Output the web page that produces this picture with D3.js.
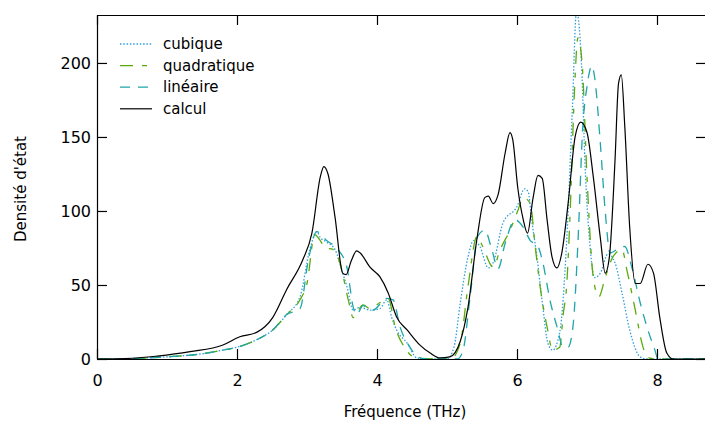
<!DOCTYPE html>
<html>
  <head>
    <meta charset="utf-8">
    <script src="https://d3js.org/d3.v7.min.js"></script>
    <style>
      body { margin: 0; background: #fff; }
      text { font-family: "DejaVu Sans", sans-serif; fill: #000; }
    </style>
  </head>
<body>
  <script type="text/javascript">
    "use strict";

    // density of states (frequency in THz, DOS)
    var freqCubique = [0, 0.5, 1.0, 1.5, 1.8, 2.0, 2.28, 2.51, 2.71, 2.9, 3.04, 3.14, 3.19, 3.28, 3.4, 3.51, 3.57, 3.66, 3.76, 3.9, 4.04, 4.14, 4.21, 4.28, 4.43, 4.57, 4.7, 5.0, 5.1, 5.19, 5.3, 5.38, 5.47, 5.59, 5.66, 5.8, 6.0, 6.11, 6.16, 6.21, 6.29, 6.37, 6.44, 6.51, 6.61, 6.71, 6.79, 6.85, 6.93, 6.97, 7.04, 7.11, 7.19, 7.3, 7.4, 7.5, 7.61, 7.76, 7.85, 8.7];
    var dosCubique  = [0, 0.3, 1.5, 3.5, 6, 8, 13, 19.6, 30, 42, 74, 86, 82, 79, 74, 58, 49, 33, 35, 33, 34, 40, 28, 19.6, 10.8, 0.7, 0, 0, 8, 38, 69, 80, 76, 61.5, 65, 92, 103, 115, 113, 94, 67, 35, 10.8, 6, 18, 80, 168, 235, 190, 134, 78, 55, 58, 71, 65, 44.6, 19.6, 1.4, 0, 0];

    var freqQuadratique = [0, 0.5, 1.0, 1.5, 1.8, 2.0, 2.28, 2.51, 2.71, 2.9, 3.0, 3.11, 3.19, 3.26, 3.37, 3.47, 3.59, 3.66, 3.8, 3.9, 4.04, 4.16, 4.26, 4.4, 4.57, 5.05, 5.19, 5.3, 5.43, 5.51, 5.66, 5.76, 5.9, 6.01, 6.09, 6.19, 6.26, 6.33, 6.43, 6.51, 6.61, 6.66, 6.71, 6.76, 6.82, 6.87, 6.93, 7.0, 7.09, 7.17, 7.26, 7.37, 7.5, 7.57, 7.69, 7.8, 7.9, 8.0, 8.7];
    var dosQuadratique  = [0, 0.3, 1.5, 3.5, 6, 8, 13, 19.6, 30, 40, 51, 84, 80, 75, 74, 65, 40, 28, 36.5, 34, 38, 41, 21.6, 7.4, 0.5, 0, 10.8, 49, 83, 76, 62, 74, 87, 100, 109, 105, 76, 49, 21.6, 6, 8, 30, 50, 100, 180, 217, 200, 123, 55, 42, 55, 69, 74, 60, 33, 8, 0.5, 0, 0];

    var freqLineaire = [0, 0.5, 1.0, 1.5, 1.8, 2.0, 2.28, 2.51, 2.71, 2.9, 3.02, 3.14, 3.28, 3.44, 3.57, 3.66, 3.71, 3.8, 3.94, 4.14, 4.23, 4.33, 4.47, 4.59, 4.7, 5.15, 5.23, 5.33, 5.44, 5.54, 5.64, 5.73, 5.83, 5.97, 6.09, 6.19, 6.29, 6.37, 6.47, 6.57, 6.66, 6.73, 6.8, 6.87, 6.94, 7.0, 7.07, 7.11, 7.19, 7.26, 7.33, 7.43, 7.54, 7.64, 7.76, 7.87, 7.97, 8.01, 8.1, 8.7];
    var dosLineaire  = [0, 0.3, 1.5, 3.5, 6, 8, 13, 19.6, 30, 34, 67, 86, 80, 74, 62, 35, 30, 36, 33, 41, 40, 21.6, 8, 1.4, 0, 0, 6, 42, 83, 87, 74, 61, 78, 94, 89, 80, 77, 65, 40, 22, 8, 8, 22, 78, 157, 184, 198, 190, 146, 100, 71.6, 74, 76, 62, 38, 19.6, 6, 0.5, 0, 0];

    var freqCalcul = [0, 0.5, 0.86, 1.33, 1.8, 2.04, 2.28, 2.51, 2.71, 2.94, 3.07, 3.19, 3.24, 3.3, 3.4, 3.51, 3.56, 3.63, 3.71, 3.76, 3.9, 4.04, 4.16, 4.28, 4.43, 4.61, 4.76, 4.9, 5.04, 5.19, 5.3, 5.43, 5.54, 5.59, 5.66, 5.73, 5.83, 5.9, 5.94, 6.01, 6.09, 6.15, 6.23, 6.3, 6.36, 6.43, 6.5, 6.57, 6.64, 6.73, 6.83, 6.91, 7.0, 7.09, 7.19, 7.26, 7.32, 7.4, 7.45, 7.49, 7.54, 7.61, 7.69, 7.76, 7.87, 7.95, 8.04, 8.14, 8.23, 8.7];
    var dosCalcul  = [0, 0.5, 2, 5, 9.5, 15, 18, 28, 47, 67, 85, 123, 130, 125, 96, 58, 57, 66, 73, 71.6, 62, 55.6, 44.6, 28.4, 19.6, 9.5, 4, 0.7, 1.4, 12, 35, 82, 109, 110, 105, 111, 139, 153, 148, 116, 94, 85, 109, 124, 122, 94, 69, 61.5, 71.6, 105, 150, 160, 153, 123, 82, 58, 69, 134, 186, 192, 157, 89, 51, 51, 64, 58, 28, 4, 0, 0];

    var seriesNames = ["cubique", "quadratique", "linéaire", "calcul"];
    var xTicks = [0, 2, 4, 6, 8];
    var yTicks = [0, 50, 100, 150, 200];

    var width = 705, height = 423;
    var plotLeft = 97, plotRight = 706, plotTop = 15, plotBottom = 359;

    var svg = d3.select("body")
        .append("svg")
            .attr("width", width)
            .attr("height", height);

    var x = d3.scaleLinear().domain([0, 8.7]).range([plotLeft, plotRight]);
    var y = d3.scaleLinear().domain([0, 232.4]).range([plotBottom, plotTop]);

    // one entry per curve, styles kept apart from the values
    var series = [
        { name: seriesNames[0], f: freqCubique, v: dosCubique, color: "#2f9fe0", dash: "1.5,1.8", w: 1.3 },
        { name: seriesNames[1], f: freqQuadratique, v: dosQuadratique, color: "#5aab0a", dash: "13,9,5,9", w: 1.3 },
        { name: seriesNames[2], f: freqLineaire, v: dosLineaire, color: "#1fa5aa", dash: "10,8", w: 1.3 },
        { name: seriesNames[3], f: freqCalcul, v: dosCalcul, color: "#000", dash: null, w: 1.2 }
    ];

    svg.append("clipPath")
        .attr("id", "plot-clip")
      .append("rect")
        .attr("x", plotLeft).attr("y", plotTop)
        .attr("width", plotRight - plotLeft).attr("height", plotBottom - plotTop);

    var line = d3.line()
        .x(function (d) { return x(d[0]); })
        .y(function (d) { return y(d[1]); })
        .curve(d3.curveMonotoneX);

    svg.append("g")
        .attr("clip-path", "url(#plot-clip)")
      .selectAll("path")
        .data(series)
        .enter()
        .append("path")
            .attr("fill", "none")
            .attr("stroke", function (s) { return s.color; })
            .attr("stroke-width", function (s) { return s.w; })
            .attr("stroke-dasharray", function (s) { return s.dash; })
            .attr("d", function (s) { return line(d3.zip(s.f, s.v)); });

    // axes, ticks pointing inwards on all four sides
    svg.append("g")
        .attr("transform", "translate(0," + plotBottom + ")")
        .call(d3.axisBottom(x).tickValues(xTicks).tickSizeInner(-10).tickSizeOuter(0).tickPadding(16));
    svg.append("g")
        .attr("transform", "translate(" + plotLeft + ",0)")
        .call(d3.axisLeft(y).tickValues(yTicks).tickSizeInner(-10).tickSizeOuter(0).tickPadding(6));
    svg.append("g")
        .attr("transform", "translate(0," + plotTop + ")")
        .call(d3.axisTop(x).tickValues(xTicks).tickSizeInner(-10).tickSizeOuter(0).tickFormat(""));
    svg.append("g")
        .attr("transform", "translate(" + plotRight + ",0)")
        .call(d3.axisRight(y).tickValues(yTicks).tickSizeInner(-10).tickSizeOuter(0).tickFormat(""));

    svg.selectAll(".tick text")
        .style("font-family", "DejaVu Sans, sans-serif")
        .style("font-size", "16px")
        .attr("fill", "#000");
    svg.selectAll(".domain, .tick line")
        .attr("stroke", "#000")
        .attr("stroke-width", 1.2);

    // axis titles
    svg.append("text")
        .attr("x", 405)
        .attr("y", 417)
        .attr("text-anchor", "middle")
        .style("font-size", "15px")
        .text("Fréquence (THz)");
    svg.append("text")
        .attr("transform", "translate(26,189) rotate(-90)")
        .attr("text-anchor", "middle")
        .style("font-size", "15px")
        .text("Densité d'état");

    // legend
    var legend = svg.selectAll(".legend")
        .data(series)
        .enter()
        .append("g")
            .attr("class", "legend")
            .attr("transform", function (d, i) { return "translate(120," + (44 + i * 21.6) + ")"; });
    legend.append("line")
        .attr("x1", 0).attr("x2", 32)
        .attr("stroke", function (s) { return s.color; })
        .attr("stroke-width", function (s) { return s.w; })
        .attr("stroke-dasharray", function (s) { return s.dash; });
    legend.append("text")
        .attr("x", 43)
        .attr("dy", "0.35em")
        .style("font-size", "15px")
        .text(function (s) { return s.name; });
  </script>
</body>
</html>
